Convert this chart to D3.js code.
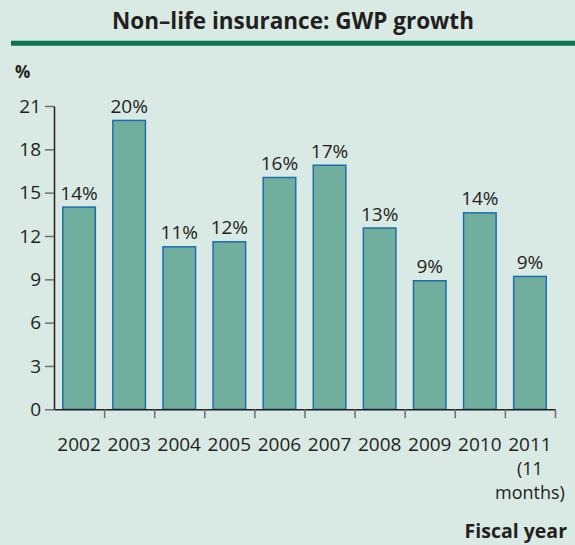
<!DOCTYPE html>
<html>
<head>
<meta charset="utf-8">
<script src="https://cdn.jsdelivr.net/npm/d3@7"></script>
<style>
  body { margin: 0; background: #d9e9e3; }
  svg { display: block; font-family: "Open Sans", sans-serif; }
</style>
</head>
<body>
<div id="chart"></div>
<script>
const years = ["2002", "2003", "2004", "2005", "2006", "2007", "2008", "2009", "2010", "2011"];
const growth = [14.0, 20.0, 11.25, 11.6, 16.05, 16.9, 12.55, 8.9, 13.6, 9.2];
const labels = ["14%", "20%", "11%", "12%", "16%", "17%", "13%", "9%", "14%", "9%"];
const yTicks = [0, 3, 6, 9, 12, 15, 18, 21];
const extraLines = {"2011": ["(11", "months)"]};

const FRAME_WIDTH = 575;
const FRAME_HEIGHT = 545;
const X0 = 54, X1 = 555;
const Y0 = 409.3, Y1 = 106;

let svg = d3.select("#chart")
  .append("svg")
    .attr("width", FRAME_WIDTH)
    .attr("height", FRAME_HEIGHT);

svg.append("rect")
  .attr("width", FRAME_WIDTH)
  .attr("height", FRAME_HEIGHT)
  .attr("fill", "#d9e9e3");

// title + green rule
svg.append("text")
  .attr("x", 293)
  .attr("y", 28.5)
  .attr("text-anchor", "middle")
  .attr("font-size", 22.5)
  .attr("font-weight", "bold")
  .attr("fill", "#231f20")
  .text("Non\u2013life insurance: GWP growth");

svg.append("line")
  .attr("x1", 11).attr("x2", FRAME_WIDTH)
  .attr("y1", 43.2).attr("y2", 43.2)
  .attr("stroke", "#0b7451")
  .attr("stroke-width", 5);

svg.append("text")
  .attr("x", 15)
  .attr("y", 77.5)
  .attr("font-size", 17)
  .attr("font-weight", "bold")
  .attr("fill", "#231f20")
  .text("%");

// scales
let x = d3.scaleBand()
  .domain(years)
  .range([X0, X1])
  .paddingInner(0.35)
  .paddingOuter(0.175);

let xEdges = d3.scaleLinear()
  .domain([0, years.length])
  .range([X0, X1]);

let y = d3.scaleLinear()
  .domain([0, 21])
  .range([Y0, Y1]);

// bars
svg.selectAll(".bar")
  .data(years)
  .enter()
  .append("rect")
    .attr("class", "bar")
    .attr("x", d => x(d))
    .attr("y", (d, i) => y(growth[i]))
    .attr("width", x.bandwidth())
    .attr("height", (d, i) => Y0 - y(growth[i]))
    .attr("fill", "#72ae9e")
    .attr("stroke", "#1b6fae")
    .attr("stroke-width", 1.5);

svg.selectAll(".lbl")
  .data(years)
  .enter()
  .append("text")
    .attr("class", "lbl")
    .attr("x", d => x(d) + x.bandwidth() / 2)
    .attr("y", (d, i) => y(growth[i]) - 7.5)
    .attr("text-anchor", "middle")
    .attr("font-size", 19)
    .attr("fill", "#231f20")
    .text((d, i) => labels[i]);

// y axis
let yAxis = svg.append("g")
  .attr("transform", "translate(" + X0 + ",0)")
  .call(d3.axisLeft(y).tickValues(yTicks).tickSize(9).tickSizeOuter(0).tickPadding(4));
yAxis.select(".domain").attr("stroke", "#231f20").attr("stroke-width", 1.5);
yAxis.selectAll(".tick line").attr("stroke", "#6d6e70").attr("stroke-width", 1.5);
yAxis.selectAll(".tick text")
  .attr("font-size", 19)
  .attr("font-family", "Open Sans, sans-serif")
  .attr("fill", "#231f20");

// x axis, ticks on band edges
let xAxis = svg.append("g")
  .attr("transform", "translate(0," + Y0 + ")")
  .call(d3.axisBottom(xEdges).tickValues(d3.range(1, years.length + 1)).tickSize(9).tickSizeOuter(0).tickFormat(""));
xAxis.select(".domain").attr("stroke", "#231f20").attr("stroke-width", 1.5);
xAxis.selectAll(".tick line").attr("stroke", "#6d6e70").attr("stroke-width", 1.5);

// category labels (year, plus extra lines under 2011)
svg.selectAll(".cat")
  .data(years)
  .enter()
  .append("text")
    .attr("class", "cat")
    .attr("x", d => x(d) + x.bandwidth() / 2)
    .attr("y", 451)
    .attr("text-anchor", "middle")
    .attr("font-size", 19)
    .attr("fill", "#231f20")
    .text(d => d);

years.forEach(d => {
  (extraLines[d] || []).forEach((s, j) => {
    svg.append("text")
      .attr("x", x(d) + x.bandwidth() / 2)
      .attr("y", 475 + j * 24)
      .attr("text-anchor", "middle")
      .attr("font-size", 18)
      .attr("fill", "#231f20")
      .text(s);
  });
});

svg.append("text")
  .attr("x", 567)
  .attr("y", 537.5)
  .attr("text-anchor", "end")
  .attr("font-size", 19.5)
  .attr("font-weight", "bold")
  .attr("fill", "#231f20")
  .text("Fiscal year");
</script>
</body>
</html>
